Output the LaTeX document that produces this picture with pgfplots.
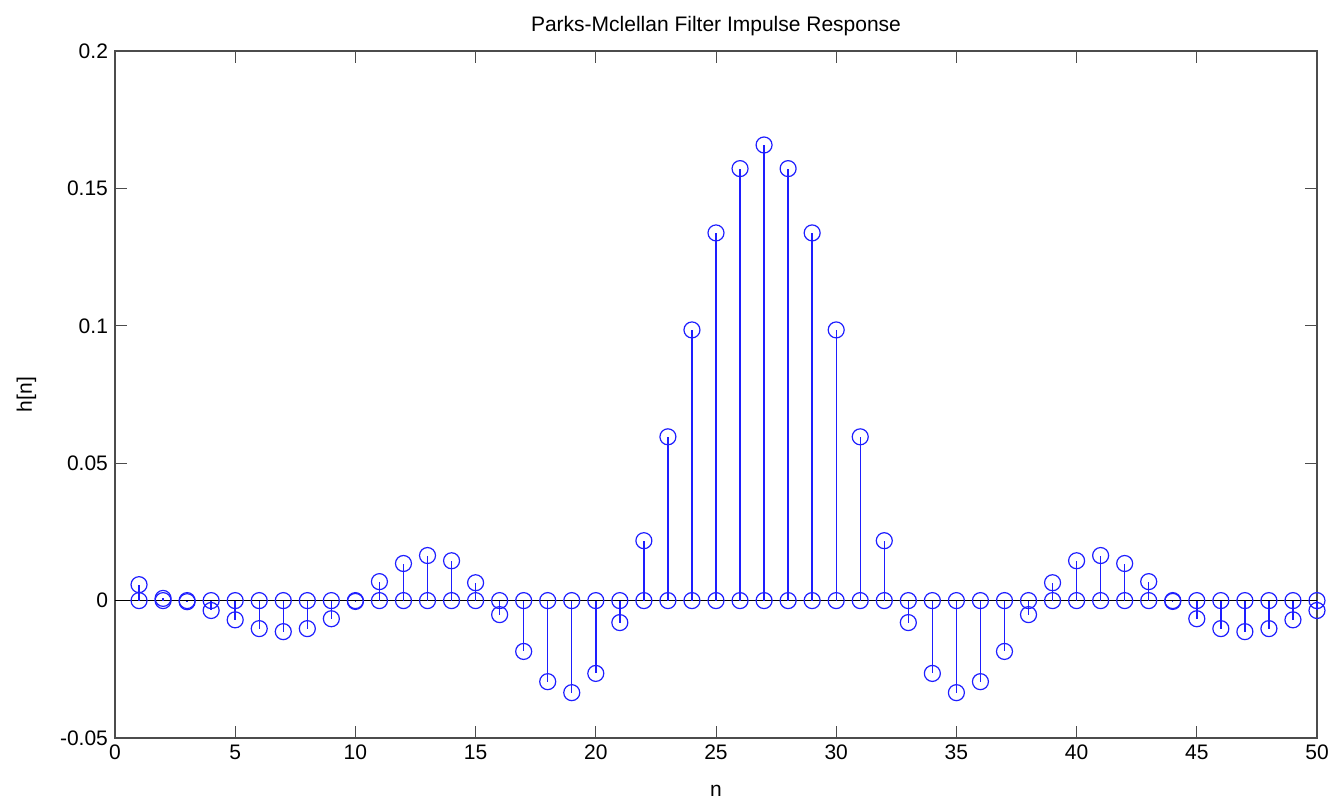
\documentclass[border=0pt]{standalone}
\usepackage{pgfplots}
\pgfplotsset{compat=1.18}
\usepackage{fontspec}
\setmainfont{Liberation Sans}
\definecolor{mblue}{RGB}{30,30,255}
\begin{document}
\begin{tikzpicture}
\path[use as bounding box] (-57.5pt,-35.5pt) rectangle (609pt,369pt);
\begin{axis}[
  at={(0,0)}, anchor=south west,
  scale only axis,
  width=601pt, height=343.5pt,
  xmin=0, xmax=50, ymin=-0.05, ymax=0.2,
  xtick={0,5,...,50},
  ytick={-0.05,0,0.05,0.1,0.15,0.2},
  yticklabels={-0.05,0,0.05,0.1,0.15,0.2},
  tick align=inside,
  major tick length=6pt,
  tick style={black!70, line width=0.5pt},
  axis line style={black!70, line width=0.6pt},
  /pgf/number format/assume math mode=true,
  tick label style={font=\fontsize{10.5}{12}\selectfont},
  title={Parks-Mclellan Filter Impulse Response},
  title style={font=\fontsize{10.5}{12}\selectfont, yshift=-2pt},
  xlabel={n}, ylabel={h[n]},
  label style={font=\fontsize{10.5}{12}\selectfont},
  xlabel style={yshift=-6pt},
  ylabel style={yshift=5pt},
  clip=false,
]
\addplot[black, line width=0.6pt] coordinates {(0,0) (50,0)};
\addplot[mblue, line width=0.7pt, ycomb, mark=o, mark size=4pt, mark options={line width=0.6pt}] coordinates {
(1,0.0058) (2,0.0008) (3,-0.0004) (4,-0.0036) (5,-0.0070)
(6,-0.0102) (7,-0.0113) (8,-0.0102) (9,-0.0066) (10,-0.0003)
(11,0.0069) (12,0.0135) (13,0.0164) (14,0.0145) (15,0.0065)
(16,-0.0051) (17,-0.0185) (18,-0.0295) (19,-0.0335) (20,-0.0265)
(21,-0.0080) (22,0.0218) (23,0.0596) (24,0.0985) (25,0.1338)
(26,0.1572) (27,0.1658) (28,0.1572) (29,0.1338) (30,0.0985)
(31,0.0596) (32,0.0218) (33,-0.0080) (34,-0.0265) (35,-0.0335)
(36,-0.0295) (37,-0.0185) (38,-0.0051) (39,0.0065) (40,0.0145)
(41,0.0164) (42,0.0135) (43,0.0069) (44,-0.0003) (45,-0.0066)
(46,-0.0102) (47,-0.0113) (48,-0.0102) (49,-0.0070) (50,-0.0036)
};
\addplot[mblue, only marks, mark=o, mark size=4pt, mark options={line width=0.6pt}] coordinates {
(1,0) (2,0) (3,0) (4,0) (5,0) (6,0) (7,0) (8,0) (9,0) (10,0)
(11,0) (12,0) (13,0) (14,0) (15,0) (16,0) (17,0) (18,0) (19,0) (20,0)
(21,0) (22,0) (23,0) (24,0) (25,0) (26,0) (27,0) (28,0) (29,0) (30,0)
(31,0) (32,0) (33,0) (34,0) (35,0) (36,0) (37,0) (38,0) (39,0) (40,0)
(41,0) (42,0) (43,0) (44,0) (45,0) (46,0) (47,0) (48,0) (49,0) (50,0)
};
\end{axis}
\end{tikzpicture}
\end{document}
